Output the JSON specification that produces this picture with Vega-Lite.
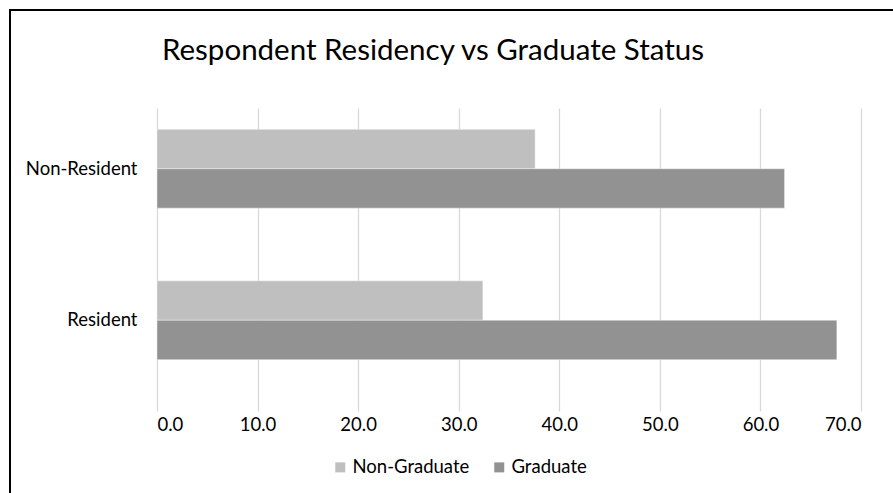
{
  "$schema": "https://vega.github.io/schema/vega-lite/v6.json",
  "width": 884,
  "height": 484,
  "autosize": "none",
  "padding": {"left": 10, "top": 10, "right": -1, "bottom": -1},
  "background": "white",
  "title": {
    "text": "Respondent Residency vs Graduate Status",
    "frame": "group",
    "anchor": "start",
    "dx": 152,
    "offset": 0,
    "dy": 56,
    "font": "Lato",
    "fontSize": 29.5,
    "fontWeight": "normal",
    "color": "#000000"
  },
  "data": {
    "values": [
      {"residency": "Non-Resident", "status": "Non-Graduate", "pct": 37.6},
      {"residency": "Non-Resident", "status": "Graduate", "pct": 62.4},
      {"residency": "Resident", "status": "Non-Graduate", "pct": 32.4},
      {"residency": "Resident", "status": "Graduate", "pct": 67.6}
    ]
  },
  "mark": {"type": "bar", "stroke": "#ffffff", "strokeOpacity": 0.4, "strokeWidth": 1},
  "encoding": {
    "y": {
      "field": "residency",
      "type": "nominal",
      "sort": ["Non-Resident", "Resident"],
      "scale": {"range": [83, 386], "paddingInner": 0.48, "paddingOuter": 0.24},
      "axis": {
        "title": null,
        "ticks": false,
        "domain": false,
        "offset": -147,
        "labelPadding": 20,
        "labelFont": "Lato",
        "labelFontSize": 18.5,
        "labelColor": "#000000"
      }
    },
    "yOffset": {
      "field": "status",
      "type": "nominal",
      "sort": ["Non-Graduate", "Graduate"],
      "scale": {"paddingInner": 0, "paddingOuter": 0}
    },
    "x": {
      "field": "pct",
      "type": "quantitative",
      "scale": {"domain": [0, 70], "range": [147, 851], "nice": false, "zero": true},
      "axis": {
        "title": null,
        "values": [0, 10, 20, 30, 40, 50, 60, 70],
        "format": ".1f",
        "grid": true,
        "gridColor": "#d9d9d9",
        "gridWidth": 1.3,
        "domain": false,
        "ticks": false,
        "offset": -98,
        "labelPadding": 19,
        "labelFont": "Lato",
        "labelFontSize": 18.5,
        "labelColor": "#000000"
      }
    },
    "color": {
      "field": "status",
      "type": "nominal",
      "scale": {"domain": ["Non-Graduate", "Graduate"], "range": ["#bfbfbf", "#929292"]},
      "legend": {
        "title": null,
        "orient": "none",
        "legendX": 321,
        "legendY": 448,
        "direction": "horizontal",
        "symbolType": "square",
        "symbolSize": 100,
        "symbolStrokeWidth": 0,
        "labelFont": "Lato",
        "labelFontSize": 18.5,
        "labelColor": "#000000",
        "labelOffset": 3,
        "columnPadding": 20
      }
    }
  },
  "config": {"view": {"stroke": "#000000", "strokeWidth": 2}}
}
